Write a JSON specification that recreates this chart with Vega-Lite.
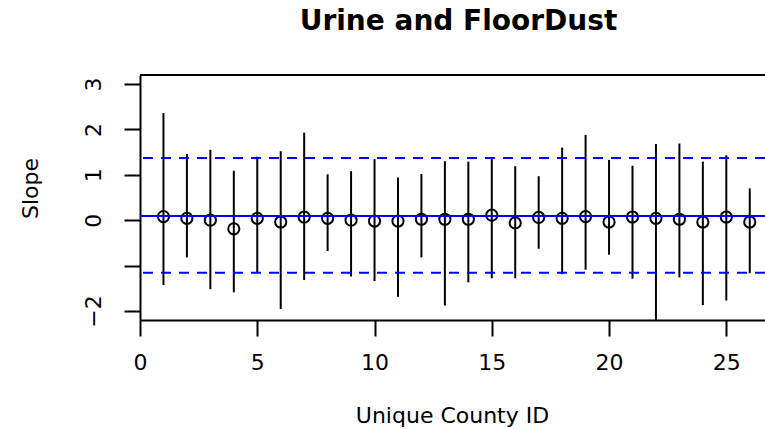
{
  "$schema": "https://vega.github.io/schema/vega-lite/v6.json",
  "width": 625,
  "height": 245,
  "autosize": {"type": "none"},
  "padding": {"left": 140, "top": 75, "right": 0, "bottom": 109},
  "background": "white",
  "title": {"text": "Urine and FloorDust", "font": "DejaVu Sans", "fontSize": 28, "fontWeight": "bold", "color": "black", "anchor": "middle", "offset": 38, "dx": 6},
  "config": {"view": {"stroke": null}, "font": "DejaVu Sans"},
  "datasets": {
    "counties": [
      {"county": 1, "slope": 0.08, "lower": -1.43, "upper": 2.36},
      {"county": 2, "slope": 0.04, "lower": -0.82, "upper": 1.46},
      {"county": 3, "slope": 0.0, "lower": -1.52, "upper": 1.55},
      {"county": 4, "slope": -0.19, "lower": -1.59, "upper": 1.09},
      {"county": 5, "slope": 0.04, "lower": -1.15, "upper": 1.4},
      {"county": 6, "slope": -0.04, "lower": -1.96, "upper": 1.52},
      {"county": 7, "slope": 0.07, "lower": -1.32, "upper": 1.93},
      {"county": 8, "slope": 0.04, "lower": -0.68, "upper": 1.01},
      {"county": 9, "slope": 0.0, "lower": -1.24, "upper": 1.08},
      {"county": 10, "slope": -0.02, "lower": -1.34, "upper": 1.35},
      {"county": 11, "slope": -0.02, "lower": -1.69, "upper": 0.94},
      {"county": 12, "slope": 0.02, "lower": -0.82, "upper": 1.02},
      {"county": 13, "slope": 0.02, "lower": -1.88, "upper": 1.3},
      {"county": 14, "slope": 0.02, "lower": -1.37, "upper": 1.29},
      {"county": 15, "slope": 0.11, "lower": -1.28, "upper": 1.37},
      {"county": 16, "slope": -0.06, "lower": -1.28, "upper": 1.19},
      {"county": 17, "slope": 0.06, "lower": -0.63, "upper": 0.97},
      {"county": 18, "slope": 0.04, "lower": -1.19, "upper": 1.6},
      {"county": 19, "slope": 0.08, "lower": -1.09, "upper": 1.88},
      {"county": 20, "slope": -0.04, "lower": -0.76, "upper": 1.33},
      {"county": 21, "slope": 0.07, "lower": -1.29, "upper": 1.2},
      {"county": 22, "slope": 0.04, "lower": -2.6, "upper": 1.68},
      {"county": 23, "slope": 0.02, "lower": -1.26, "upper": 1.69},
      {"county": 24, "slope": -0.04, "lower": -1.87, "upper": 1.29},
      {"county": 25, "slope": 0.07, "lower": -1.77, "upper": 1.43},
      {"county": 26, "slope": -0.04, "lower": -1.17, "upper": 0.7}
    ],
    "refs": [
      {"kind": "mean", "value": 0.095},
      {"kind": "upper", "value": 1.37},
      {"kind": "lower", "value": -1.157}
    ],
    "frame": [{"edge": "top"}]
  },
  "layer": [
    {
      "data": {"name": "counties"},
      "mark": {"type": "rule", "color": "black", "strokeWidth": 2, "clip": true},
      "encoding": {
        "x": {
          "field": "county", "type": "quantitative",
          "scale": {"domain": [0, 26.65], "nice": false, "zero": false},
          "axis": {
            "title": "Unique County ID", "values": [0, 5, 10, 15, 20, 25],
            "grid": false, "tickSize": 16, "tickWidth": 2, "tickColor": "black",
            "domainColor": "black", "domainWidth": 2,
            "labelFont": "DejaVu Sans", "labelFontSize": 22, "labelColor": "black",
            "labelPadding": 16, "labelBaseline": "top", "labelAngle": 0, "labelFlush": false,
            "titleFont": "DejaVu Sans", "titleFontSize": 22, "titleFontWeight": "normal", "titleColor": "black",
            "titleBaseline": "alphabetic", "titleAlign": "center", "titleX": 312, "titleY": 102
          }
        },
        "y": {
          "field": "lower", "type": "quantitative",
          "scale": {"domain": [-2.2, 3.2], "nice": false, "zero": false},
          "axis": {
            "title": "Slope", "values": [-2, -1, 0, 1, 2, 3],
            "labelExpr": "datum.value == -1 ? '' : datum.label",
            "grid": false, "tickSize": 16, "tickWidth": 2, "tickColor": "black",
            "domainColor": "black", "domainWidth": 2,
            "labelFont": "DejaVu Sans", "labelFontSize": 22, "labelColor": "black",
            "labelAngle": -90, "labelAlign": "center", "labelBaseline": "middle", "labelPadding": 31, "labelFlush": false,
            "titleFont": "DejaVu Sans", "titleFontSize": 22, "titleFontWeight": "normal", "titleColor": "black",
            "titleAngle": -90, "titleAlign": "center", "titleBaseline": "middle", "titleX": -110, "titleY": 113
          }
        },
        "y2": {"field": "upper"}
      }
    },
    {
      "data": {"name": "counties"},
      "mark": {"type": "point", "shape": "circle", "filled": false, "color": "black", "strokeWidth": 2, "size": 125, "opacity": 1},
      "encoding": {
        "x": {"field": "county", "type": "quantitative"},
        "y": {"field": "slope", "type": "quantitative"}
      }
    },
    {
      "data": {"name": "refs"},
      "transform": [{"filter": "datum.kind == 'mean'"}],
      "mark": {"type": "rule", "color": "#0000FF", "strokeWidth": 2},
      "encoding": {"y": {"field": "value", "type": "quantitative"}}
    },
    {
      "data": {"name": "refs"},
      "transform": [{"filter": "datum.kind != 'mean'"}],
      "mark": {"type": "rule", "color": "#0000FF", "strokeWidth": 2, "strokeDash": [10, 8]},
      "encoding": {"y": {"field": "value", "type": "quantitative"}}
    },
    {
      "data": {"name": "frame"},
      "mark": {"type": "rule", "color": "black", "strokeWidth": 2},
      "encoding": {"y": {"datum": 3.2}}
    }
  ]
}
